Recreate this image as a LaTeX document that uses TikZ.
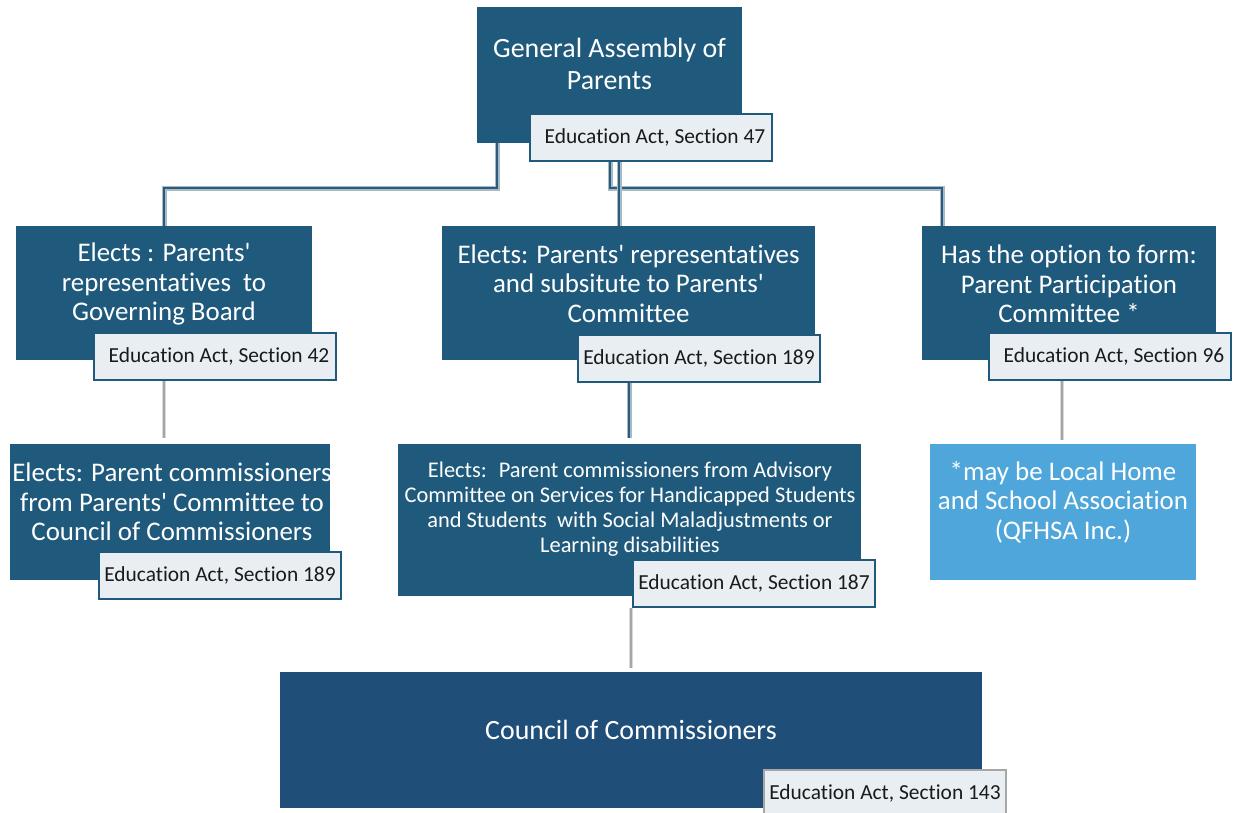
\documentclass[tikz,border=0pt]{standalone}
\usepackage{fontspec}
\setmainfont{Carlito}[Ligatures={NoCommon,TeXOff}]
\usetikzlibrary{calc}
\definecolor{boxdark}{HTML}{1F5A7C}
\definecolor{boxbottom}{HTML}{1F4E79}
\definecolor{boxlight}{HTML}{4FA6DA}
\definecolor{labfill}{HTML}{E9EEF3}
\definecolor{linkdarkc}{HTML}{2C5B7B}
\definecolor{linkshade}{HTML}{A9BAC7}
\definecolor{linkgrayc}{HTML}{A6A6A6}
\definecolor{linkgrayshade}{HTML}{D9D9D9}
\definecolor{labtext}{HTML}{1A1A1A}
\tikzset{
  box/.style={anchor=north west, fill=boxdark, draw=none, inner sep=0pt},
  boxtext/.style={text=white, align=center, inner sep=0pt},
  lab/.style={anchor=north west, minimum width=242bp, minimum height=47bp, fill=labfill,
    draw=boxdark, line width=2bp, text=labtext, inner sep=0pt,
    font=\fontsize{21.5}{24}\selectfont},
  labtxt/.style={text=labtext, inner sep=0pt, font=\fontsize{21.5}{24}\selectfont},
  linkdark/.style={draw=linkdarkc, line width=2.5bp, preaction={draw=linkshade, line width=5bp}},
  linkgray/.style={draw=linkgrayc, line width=2.5bp, preaction={draw=linkgrayshade, line width=4.5bp}},
  fbig/.style={font=\fontsize{28}{32}\selectfont},
  fmid/.style={font=\fontsize{27}{29.5}\selectfont},
  fsmall/.style={font=\fontsize{22.5}{25}\selectfont},
}
\begin{document}
\begin{tikzpicture}[x=1bp,y=-1bp]
\useasboundingbox (0,0) rectangle (1233,813);
\clip (0,0) rectangle (1233,813);
% top
\node[box, minimum width=265bp, minimum height=136bp] (ga) at (477,7) {};
\node[boxtext, fbig] (gat) at (609.5,64) {General Assembly of\\Parents};
\node[lab] (l47) at (529,113) {\hspace*{8bp}Education Act, Section 47};
% row 2
\node[box, minimum width=296bp, minimum height=134bp] (gb) at (16,226) {};
\node[boxtext, fmid] (gbt) at (164,284) {Elects : Parents'\\representatives~ to\\Governing Board};
\node[lab] (l42) at (93,332) {\hspace*{8bp}Education Act, Section 42};
\node[box, minimum width=373bp, minimum height=134bp] (pc) at (442,226) {};
\node[boxtext, fmid] (pct) at (628.5,283.5) {Elects: Parents' representatives\\and subsitute to Parents'\\Committee};
\node[lab] (l189a) at (577,334) {Education Act, Section 189};
\node[box, minimum width=294bp, minimum height=134bp] (ppc) at (922,226) {};
\node[boxtext, fmid] (ppct) at (1069,284) {Has the option to form:\\Parent Participation\\Committee *};
\node[lab] (l96) at (988,332) {\hspace*{8bp}Education Act, Section 96};
% row 3
\node[box, minimum width=320bp, minimum height=136bp] (pcc) at (10,444) {};
\node[boxtext, fmid] (pcct) at (172,502) {Elects: Parent commissioners\\from Parents' Committee to\\Council of Commissioners};
\node[lab] (l189b) at (98,551) {Education Act, Section 189};
\node[box, minimum width=463bp, minimum height=152bp] (acs) at (398,444) {};
\node[boxtext, fsmall] (acst) at (630,509.5) {Elects:~ Parent commissioners from Advisory\\Committee on Services for Handicapped Students\\and Students~ with Social Maladjustments or\\Learning disabilities};
\node[lab] (l187) at (632,559) {Education Act, Section 187};
\node[box, fill=boxlight, minimum width=266bp, minimum height=136bp] (hsa) at (930,444) {};
\node[boxtext, fmid] (hsat) at (1063,502) {*may be Local Home\\and School Association\\(QFHSA Inc.)};
% bottom
\node[box, fill=boxbottom, minimum width=702bp, minimum height=136bp] (cc) at (280,672) {};
\node[boxtext, fbig] (cct) at (631,730) {Council of Commissioners};
\node[lab, draw=linkgrayc] (l143) at (763,769) {Education Act, Section 143};
% connectors
\coordinate (j1) at (497,188);
\coordinate (j2) at (610,188);
\coordinate (j3) at (942,188);
\coordinate (j4) at (619,0);
\coordinate (j5) at (629,0);
\coordinate (j6) at (1062,0);
\coordinate (j7) at (631,0);
\draw[linkdark] (ga.south -| j1) -- (j1) -| (gb.north);
\draw[linkdark] (l47.south -| j2) -- (j2) -- (j3) -- (ppc.north -| j3);
\draw[linkdark] (l47.south -| j4) -- (pc.north -| j4);
\draw[linkgray, shorten >=6bp] (l42.south -| gb.north) -- (pcc.north -| gb.north);
\draw[linkdark, shorten >=6bp] (l189a.south -| j5) -- (acs.north -| j5);
\draw[linkgray, shorten >=4bp] (l96.south -| j6) -- (hsa.north -| j6);
\draw[linkgray, shorten >=4bp] (l187.south -| j7) -- (cc.north -| j7);
\end{tikzpicture}
\end{document}
